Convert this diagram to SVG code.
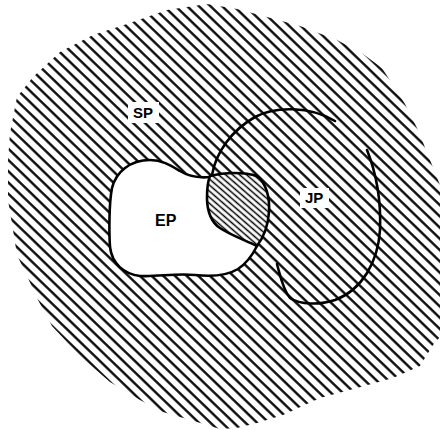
<svg xmlns="http://www.w3.org/2000/svg" width="440" height="430" viewBox="0 0 440 430">
  <defs>
    <pattern id="hatch" patternUnits="userSpaceOnUse" width="20" height="8.1" patternTransform="rotate(44)">
      <line x1="-2" y1="4" x2="22" y2="4" stroke="#000" stroke-width="2.3"/>
    </pattern>
    <pattern id="hatchDense" patternUnits="userSpaceOnUse" width="20" height="4.6" patternTransform="rotate(41)">
      <line x1="-2" y1="2.3" x2="22" y2="2.3" stroke="#000" stroke-width="1.5"/>
    </pattern>
    <style>
      .outline { fill: none; stroke: #000; stroke-width: 2.6; stroke-linejoin: round; stroke-linecap: round; }
      .label { font-family: "Liberation Sans", Arial, sans-serif; font-weight: bold; fill: #000; }
      .labelbg { fill: #fff; }
    </style>
  </defs>
  <rect width="440" height="430" fill="#fff"/>

  <g id="SP">
    <polygon fill="url(#hatch)" points="207,4 237,9 267,17 300,26 337,40 363,54 382,68 405,104 418,130 432,165 446,200 446,330 433,345 420,366 393,378 357,388 320,398 283,415 257,423 237,428 220,429 197,422 163,412 140,400 110,382 80,356 52,326 38,300 27,276 17,255 13,230 8,200 8,160 10,133 17,97 33,77 60,52 93,35 127,24 167,10"/>
    <rect class="labelbg" x="128" y="102" width="31" height="21"/>
    <text class="label" x="133" y="118" font-size="15">SP</text>
  </g>

  <g id="EP">
    <path fill="#fff" d="M 210,177 C 200,178 188,176 180,171 C 170,165 162,160 150,160 C 130,160 116,172 112,188 C 109,203 109,232 110,247 C 112,264 124,274 140,276 C 158,277 175,273 195,275 C 213,277 228,275 238,269 C 247,263 253,254 257,246 C 245,240 230,235 220,228 C 212,223 207,212 207,198 C 207,188 208,181 210,177 Z"/>
    <path class="outline" d="M 210,177 C 200,178 188,176 180,171 C 170,165 162,160 150,160 C 130,160 116,172 112,188 C 109,203 109,232 110,247 C 112,264 124,274 140,276 C 158,277 175,273 195,275 C 213,277 228,275 238,269 C 247,263 253,254 257,246"/>
    <text class="label" x="155" y="226" font-size="16">EP</text>
  </g>

  <g id="EP-JP-overlap">
    <path fill="#fff" d="M 210,176 C 225,172 245,172 257,176 C 266,183 270,197 269,212 C 268,228 263,238 257,246 C 245,240 230,235 220,228 C 212,223 207,212 207,198 C 207,188 208,181 210,176 Z"/>
    <path class="outline" style="fill:url(#hatchDense)" d="M 210,176 C 225,172 245,172 257,176 C 266,183 270,197 269,212 C 268,228 263,238 257,246 C 245,240 230,235 220,228 C 212,223 207,212 207,198 C 207,188 208,181 210,176 Z"/>
  </g>

  <g id="JP">
    <path class="outline" d="M 212,175 C 216,152 232,130 255,117 C 275,106 310,106 335,121"/>
    <path class="outline" d="M 367,150 C 377,175 381,205 380,230 C 378,262 362,290 335,300 C 320,305 300,305 290,298 C 283,290 280,275 277,264"/>
    <rect class="labelbg" x="300" y="188" width="29" height="20"/>
    <text class="label" x="305" y="203" font-size="15">JP</text>
  </g>
</svg>
